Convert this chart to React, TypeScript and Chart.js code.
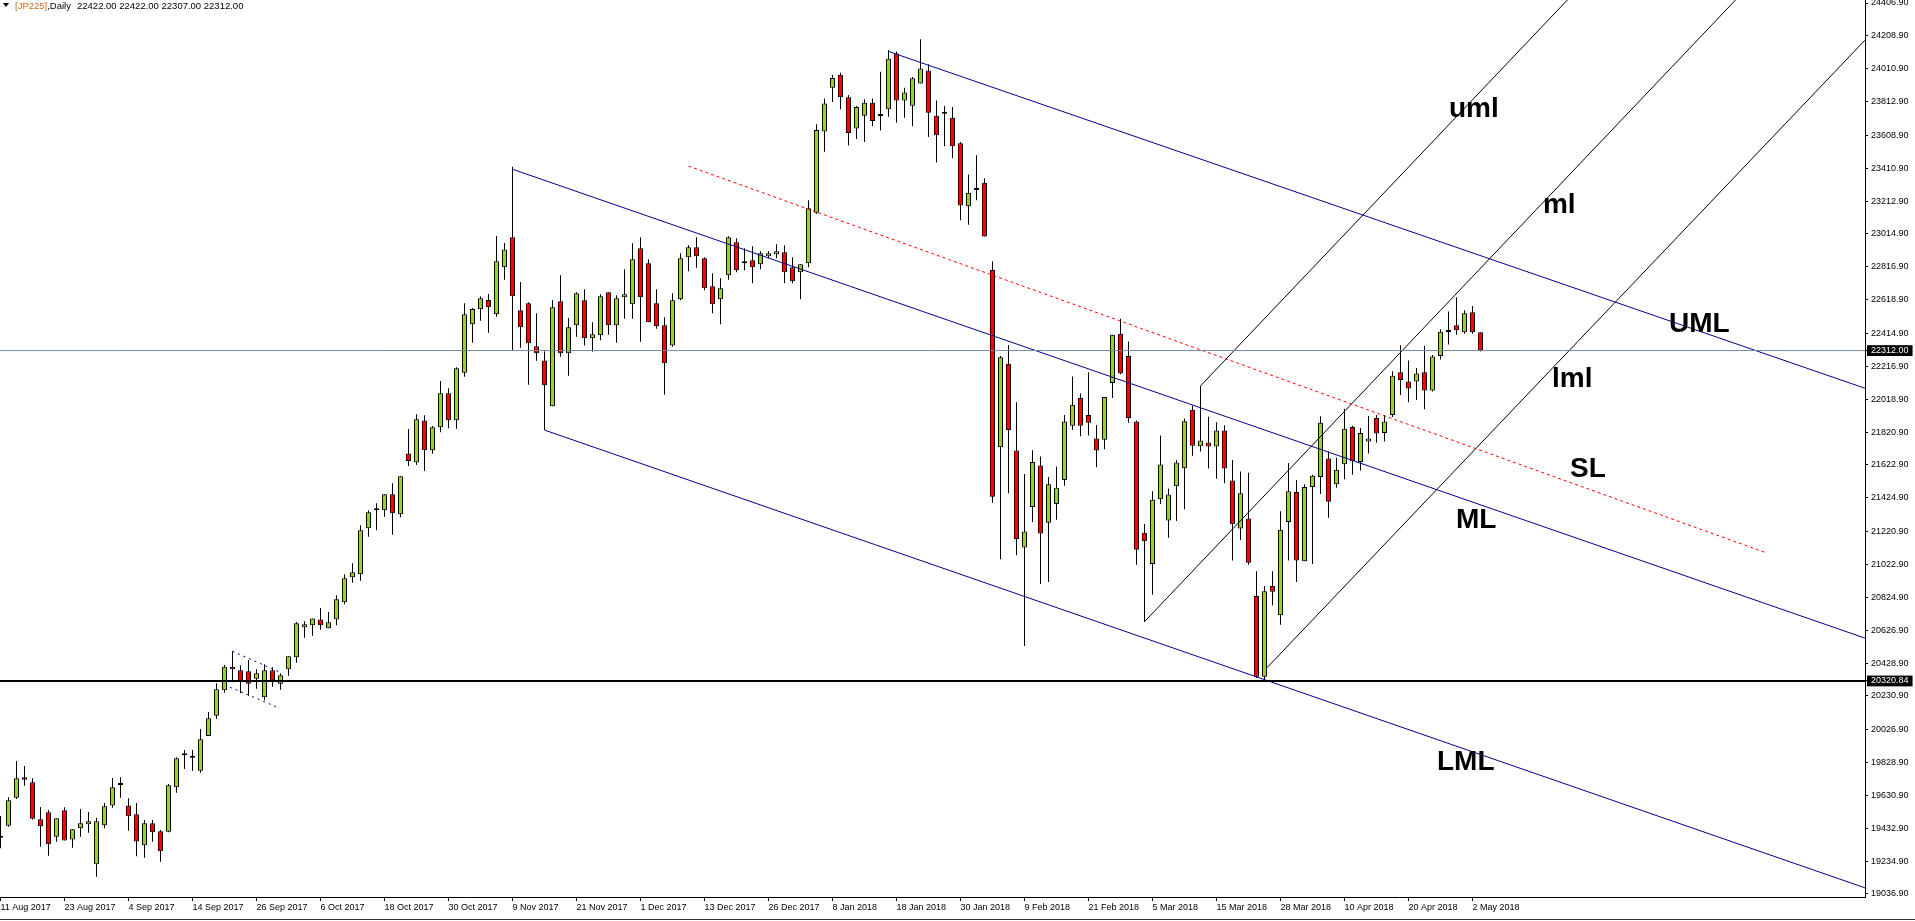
import React, { useEffect, useRef } from "react";
import { Chart, registerables } from "chart.js";

Chart.register(...registerables);

// ---------- DATA ----------
const dateLabels = [
  "11 Aug 2017", "23 Aug 2017", "4 Sep 2017", "14 Sep 2017", "26 Sep 2017", "6 Oct 2017",
  "18 Oct 2017", "30 Oct 2017", "9 Nov 2017", "21 Nov 2017", "1 Dec 2017", "13 Dec 2017",
  "26 Dec 2017", "8 Jan 2018", "18 Jan 2018", "30 Jan 2018", "9 Feb 2018", "21 Feb 2018",
  "5 Mar 2018", "15 Mar 2018", "28 Mar 2018", "10 Apr 2018", "20 Apr 2018", "2 May 2018",
];
const dateTickBars = [0, 8, 16, 24, 32, 40, 48, 56, 64, 72, 80, 88, 96, 104, 112, 120, 128, 136, 144, 152, 160, 168, 176, 184];

const opens = [
  19376, 19448, 19617, 19740, 19710, 19487, 19529, 19382, 19541, 19366,
  19433, 19457, 19216, 19451, 19571, 19696, 19571, 19517, 19330, 19463,
  19415, 19412, 19680, 19885, 19858, 19780, 19989, 20111, 20265, 20407,
  20385, 20379, 20334, 20222, 20385, 20304, 20391, 20464, 20644, 20656,
  20692, 20638, 20692, 20795, 20946, 20964, 21241, 21349, 21349, 21446,
  21325, 21692, 21638, 21891, 21711, 21850, 22055, 21892, 22179, 22470,
  22561, 22617, 22531, 22814, 22995, 22555, 22597, 22338, 22253, 21976,
  22609, 22296, 22464, 22615, 22386, 22404, 22663, 22464, 22633, 22591,
  22929, 22838, 22597, 22464, 22342, 22621, 22874, 22935, 22868, 22700,
  22621, 22766, 22965, 22842, 22856, 22832, 22880, 22892, 22904, 22814,
  22784, 22838, 23143, 23633, 23896, 23974, 23839, 23651, 23728, 23806,
  23728, 23767, 24103, 23819, 23788, 23922, 24000, 23728, 23742, 23716,
  23561, 23182, 23282, 23324, 22798, 21730, 22233, 21710, 21125, 21369,
  21619, 21274, 21387, 21532, 21859, 22027, 21924, 21782, 21774, 22117,
  22414, 22279, 21885, 21214, 21026, 21416, 21288, 21494, 21603, 21956,
  21736, 21758, 21734, 21830, 21529, 21240, 21300, 20833, 20346, 20893,
  20717, 21279, 21460, 21042, 21490, 21550, 21661, 21506, 21627, 21851,
  21640, 21764, 21906, 21815, 21924, 22182, 22125, 22125, 22182, 22071,
  22279, 22424, 22465, 22422, 22543, 22422,
];
const highs = [
  19507, 19620, 19838, 19808, 19734, 19561, 19543, 19493, 19559, 19427,
  19549, 19531, 19497, 19585, 19736, 19740, 19614, 19585, 19483, 19483,
  19423, 19700, 19861, 19905, 19905, 20031, 20134, 20307, 20417, 20500,
  20415, 20447, 20391, 20421, 20403, 20367, 20470, 20676, 20680, 20698,
  20761, 20737, 20837, 20964, 21030, 21259, 21349, 21392, 21446, 21512,
  21554, 21839, 21929, 21923, 21858, 22129, 22085, 22211, 22597, 22569,
  22639, 22653, 23003, 22960, 23420, 22725, 22603, 22537, 22308, 22617,
  22766, 22508, 22663, 22681, 22483, 22651, 22663, 22645, 22802, 22959,
  22995, 22862, 22681, 22513, 22657, 22898, 22947, 22995, 22874, 22778,
  22748, 23001, 22989, 22929, 22941, 22910, 22910, 22953, 22947, 22874,
  22832, 23218, 23676, 23832, 23974, 23986, 23852, 23786, 23827, 23832,
  23992, 24123, 24115, 23896, 23961, 24188, 24038, 23819, 23786, 23780,
  23569, 23373, 23489, 23350, 22850, 22279, 22344, 22001, 21568, 21712,
  21674, 21550, 21614, 21924, 22156, 22053, 22182, 21864, 22032, 22408,
  22504, 22367, 21890, 21267, 21465, 21800, 21481, 21653, 21902, 21980,
  22099, 21914, 21880, 21862, 21653, 21583, 21575, 20982, 20893, 20982,
  21343, 21635, 21532, 21506, 21563, 21916, 21704, 21666, 21962, 21859,
  21846, 21918, 21924, 21924, 22187, 22344, 22253, 22207, 22341, 22285,
  22440, 22548, 22633, 22555, 22581, 22422,
];
const lows = [
  19312, 19442, 19609, 19690, 19485, 19322, 19268, 19352, 19360, 19316,
  19382, 19406, 19141, 19433, 19557, 19617, 19418, 19264, 19256, 19352,
  19231, 19409, 19647, 19790, 19780, 19768, 19989, 20092, 20250, 20313,
  20247, 20232, 20274, 20204, 20286, 20268, 20353, 20431, 20582, 20594,
  20630, 20638, 20656, 20783, 20913, 20925, 21190, 21229, 21311, 21202,
  21307, 21616, 21622, 21586, 21690, 21820, 21844, 21841, 22155, 22360,
  22492, 22420, 22516, 22739, 22316, 22329, 22106, 22251, 21833, 21976,
  22275, 22161, 22396, 22342, 22305, 22374, 22408, 22360, 22504, 22504,
  22366, 22483, 22444, 22046, 22335, 22615, 22790, 22812, 22675, 22537,
  22470, 22739, 22784, 22796, 22718, 22802, 22868, 22868, 22718, 22718,
  22621, 22814, 23137, 23510, 23811, 23767, 23548, 23587, 23569, 23664,
  23639, 23721, 23685, 23716, 23664, 23922, 23599, 23445, 23543, 23471,
  23097, 23071, 23218, 22999, 21395, 21055, 21452, 21078, 20532, 21279,
  20905, 20918, 21292, 21498, 21833, 21795, 21800, 21609, 21718, 22027,
  22169, 21877, 21021, 20678, 20841, 21387, 21184, 21285, 21356, 21678,
  21704, 21602, 21540, 21512, 21047, 21171, 21021, 20338, 20321, 20776,
  20660, 21047, 20918, 21042, 21026, 21447, 21305, 21486, 21537, 21563,
  21589, 21692, 21756, 21764, 21911, 22045, 22001, 22014, 21958, 22065,
  22259, 22349, 22408, 22414, 22414, 22307,
];
const closes = [
  19378, 19602, 19734, 19726, 19491, 19445, 19336, 19493, 19360, 19427,
  19463, 19475, 19475, 19565, 19680, 19694, 19505, 19354, 19463, 19409,
  19294, 19692, 19855, 19873, 19860, 19969, 20096, 20271, 20407, 20391,
  20322, 20304, 20367, 20385, 20325, 20355, 20470, 20668, 20662, 20698,
  20656, 20674, 20813, 20940, 20976, 21229, 21337, 21361, 21446, 21331,
  21554, 21647, 21898, 21711, 21850, 22055, 21892, 22205, 22531, 22563,
  22627, 22573, 22850, 22922, 22639, 22452, 22356, 22296, 22103, 22573,
  22296, 22452, 22657, 22386, 22410, 22639, 22464, 22627, 22651, 22862,
  22633, 22483, 22458, 22235, 22615, 22868, 22935, 22880, 22687, 22591,
  22687, 22995, 22796, 22838, 22814, 22898, 22898, 22910, 22784, 22730,
  22832, 23170, 23641, 23801, 23955, 23839, 23623, 23780, 23806, 23695,
  23726, 24071, 23819, 23868, 23953, 24012, 23746, 23610, 23740, 23543,
  23187, 23264, 23280, 22999, 21431, 22272, 21833, 21176, 21222, 21640,
  21210, 21506, 21486, 21885, 21985, 21859, 21877, 21710, 22032, 22408,
  22174, 21906, 21111, 21163, 21413, 21625, 21445, 21637, 21886, 21738,
  21770, 21734, 21830, 21602, 21266, 21452, 21034, 20346, 20861, 20859,
  21232, 21465, 21047, 21490, 21557, 21877, 21401, 21594, 21841, 21645,
  21815, 21782, 21813, 21885, 22161, 22135, 22084, 22174, 22071, 22277,
  22426, 22434, 22434, 22537, 22422, 22312,
];

const priceTicks = [
  24406.9, 24208.9, 24010.9, 23812.9, 23608.9, 23410.9, 23212.9, 23014.9, 22816.9, 22618.9,
  22414.9, 22216.9, 22018.9, 21820.9, 21622.9, 21424.9, 21220.9, 21022.9, 20824.9, 20626.9,
  20428.9, 20230.9, 20026.9, 19828.9, 19630.9, 19432.9, 19234.9, 19036.9,
];
const bidPrice = 22312.0;
const supportPrice = 20320.84;

// trend lines: [bar index, price] end points
const umlLine = [[111, 24115], [233.06, 22085]];
const mlBlueLine = [[64, 23405], [233.06, 20579]];
const lmlBlueLine = [[68, 21833], [233.06, 19074]];
const slLine = [[86, 23424], [220.56, 21096]];
const umlBlack = [[150, 22099], [197, 24483]];
const mlBlack = [[143, 20678], [218, 24482]];
const lmlBlack = [[158.3, 20400], [233.06, 24183]];
const flagUpper = [[29, 20500], [34.94, 20373]];
const flagLower = [[28.69, 20283], [34.94, 20156]];
const bidLine = [[-1, bidPrice], [240, bidPrice]];
const supportLine = [[-1, supportPrice], [240, supportPrice]];

// text annotations anchored at [bar index, price]
const labelTexts = ["uml", "ml", "UML", "lml", "SL", "ML", "LML"];
const labelBars = [181.06, 192.8, 208.56, 193.94, 196.19, 181.94, 179.56];
const labelPrices = [23720, 23141, 22424, 22093, 21550, 21243, 19784];

const FONT = '"Liberation Sans", Arial, sans-serif';

export default function App() {
  const ref = useRef<HTMLCanvasElement>(null);

  useEffect(() => {
    const canvas = ref.current;
    if (!canvas) return;
    const idx = opens.map((_, i) => i);
    const wickData = idx.map((i) => ({ x: i, y: [lows[i], highs[i]] }));
    const bodyData = idx.map((i) => ({ x: i, y: [opens[i], closes[i]] }));
    const bodyColors = idx.map((i) => (closes[i] >= opens[i] ? "#9acd32" : "#ff0000"));

    const mkLine = (pts: number[][], color: string, width: number, dash: number[]) => ({
      type: "line" as const,
      data: pts.map((p) => ({ x: p[0], y: p[1] })),
      borderColor: color,
      borderWidth: width,
      borderDash: dash,
      pointRadius: 0,
      pointHoverRadius: 0,
      fill: false,
      tension: 0,
      order: 1,
    });

    const specials = [bidPrice, supportPrice];
    const isSpecial = (v: any) => specials.some((s) => Math.abs(s - v) < 1e-6);

    const labelPlugin = {
      id: "pfLabels",
      afterDatasetsDraw(chart: any) {
        const { ctx } = chart;
        const xs = chart.scales.x;
        const ys = chart.scales.y;
        ctx.save();
        ctx.font = `bold 28px ${FONT}`;
        ctx.fillStyle = "#000";
        ctx.textAlign = "left";
        ctx.textBaseline = "alphabetic";
        labelTexts.forEach((t, k) => {
          ctx.fillText(t, xs.getPixelForValue(labelBars[k]), ys.getPixelForValue(labelPrices[k]));
        });
        ctx.restore();
      },
    };

    const chart = new Chart(canvas, {
      type: "bar",
      data: {
        datasets: [
          {
            type: "bar",
            data: wickData as any,
            backgroundColor: "#000",
            borderWidth: 0,
            maxBarThickness: 1,
            grouped: false,
            order: 3,
          } as any,
          {
            type: "bar",
            data: bodyData as any,
            backgroundColor: bodyColors,
            borderColor: "#000",
            borderWidth: 1,
            borderSkipped: false,
            maxBarThickness: 5,
            minBarLength: 2,
            grouped: false,
            order: 2,
          } as any,
          mkLine(bidLine, "#778899", 1, []),
          mkLine(supportLine, "#000000", 2, []),
          mkLine(umlLine, "#00008b", 1, []),
          mkLine(mlBlueLine, "#00008b", 1, []),
          mkLine(lmlBlueLine, "#00008b", 1, []),
          mkLine(slLine, "#ff0000", 1, [3, 3]),
          mkLine(umlBlack, "#000000", 1, []),
          mkLine(mlBlack, "#000000", 1, []),
          mkLine(lmlBlack, "#000000", 1, []),
          mkLine(flagUpper, "#00008b", 1, [2, 4]),
          mkLine(flagLower, "#00008b", 1, [2, 4]),
        ] as any,
      },
      options: {
        responsive: false,
        animation: false,
        devicePixelRatio: 1,
        events: [],
        layout: { padding: 0 },
        plugins: { legend: { display: false }, tooltip: { enabled: false }, title: { display: false } },
        scales: {
          x: {
            type: "linear",
            min: -0.0625,
            max: 233.0625,
            offset: false,
            bounds: "data",
            position: "bottom",
            grid: { display: true, drawOnChartArea: false, drawTicks: true, tickLength: 4, color: "#000", offset: false },
            border: { display: true, color: "#000", width: 1 },
            ticks: {
              autoSkip: false,
              maxRotation: 0,
              minRotation: 0,
              align: "start",
              padding: 1,
              color: "#000",
              font: { family: FONT, size: 9 },
              callback: (_v: any, i: number) => dateLabels[i],
            },
            afterBuildTicks: (s: any) => {
              s.ticks = dateTickBars.map((b) => ({ value: b }));
            },
            afterFit: (s: any) => {
              s.height = 24;
              s.paddingLeft = 0;
              s.paddingRight = 0;
            },
          },
          y: {
            type: "linear",
            position: "right",
            min: 19018.8,
            max: 24425,
            bounds: "data",
            grid: { display: true, drawOnChartArea: false, drawTicks: true, tickLength: 3, color: "#000" },
            border: { display: true, color: "#000", width: 1 },
            ticks: {
              autoSkip: false,
              padding: 3,
              font: { family: FONT, size: 9 },
              color: (c: any) => (isSpecial(c.tick?.value) ? "#fff" : "#000"),
              showLabelBackdrop: true,
              backdropColor: (c: any) => (isSpecial(c.tick?.value) ? "#000" : "rgba(0,0,0,0)"),
              backdropPadding: { left: 4, right: 4, top: 0, bottom: 0 },
              callback: (v: any) => Number(v).toFixed(2),
            },
            afterBuildTicks: (s: any) => {
              s.ticks = [...priceTicks, ...specials].sort((a, b) => a - b).map((v) => ({ value: v }));
            },
            afterFit: (s: any) => {
              s.width = 50;
              s.paddingTop = 0;
              s.paddingBottom = 0;
            },
          },
        },
      } as any,
      plugins: [labelPlugin],
    });
    return () => chart.destroy();
  }, []);

  const last = opens.length - 1;
  const header = [opens[last], highs[last], lows[last], closes[last]].map((v) => v.toFixed(2)).join(" ");

  return (
    <div style={{ position: "fixed", left: 0, top: 0, width: 1915, height: 921, background: "#fff", overflow: "hidden" }}>
      <canvas ref={ref} width={1915} height={921} style={{ position: "absolute", left: 0, top: 0, width: 1915, height: 921 }} />
      <div
        style={{
          position: "absolute",
          left: 3,
          top: 3,
          width: 0,
          height: 0,
          borderLeft: "3px solid transparent",
          borderRight: "3px solid transparent",
          borderTop: "4px solid #000",
        }}
      />
      <div style={{ position: "absolute", left: 15, top: 0, fontSize: 9.5, lineHeight: "11px", fontFamily: FONT, color: "#000", whiteSpace: "pre" }}>
        <span style={{ color: "#cc6a1a" }}>[JP225]</span>,Daily
      </div>
      <div style={{ position: "absolute", left: 77, top: 0, fontSize: 9.5, lineHeight: "11px", fontFamily: FONT, color: "#000", whiteSpace: "pre" }}>
        {header}
      </div>
      <div style={{ position: "absolute", left: 0, top: 919, width: 1915, height: 1, background: "#333" }} />
    </div>
  );
}
